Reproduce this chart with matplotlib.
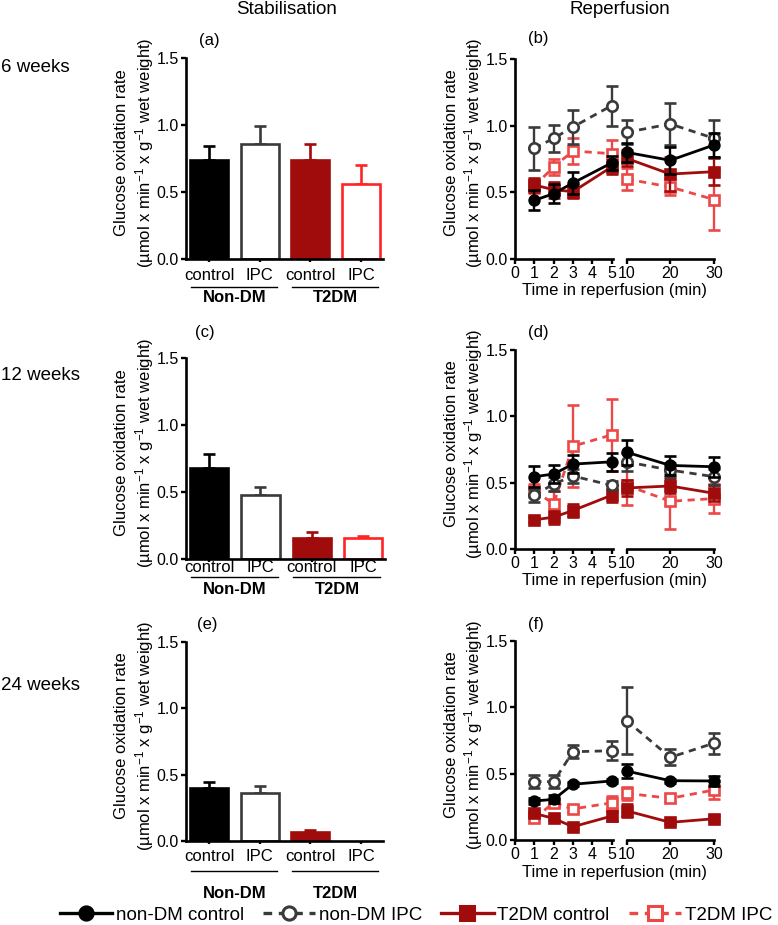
"""Glucose oxidation rate: stabilisation bars and reperfusion time course (6/12/24 weeks)."""

import numpy as np
import matplotlib

matplotlib.use("Agg")
import matplotlib.pyplot as plt
from matplotlib.lines import Line2D
from matplotlib.ticker import FormatStrFormatter
from matplotlib.transforms import blended_transform_factory

plt.rcParams["font.family"] = ["Liberation Sans", "DejaVu Sans"]
plt.rcParams["mathtext.default"] = "regular"

W, H = 778, 925

# ---- data -------------------------------------------------------------
row_labels = ["6 weeks", "12 weeks", "24 weeks"]
bar_labels = ["control", "IPC", "control", "IPC"]
group_labels = ["Non-DM", "T2DM"]
series_names = ["non-DM control", "non-DM IPC", "T2DM control", "T2DM IPC"]

# stabilisation (mean, SEM) per group: non-DM ctrl, non-DM IPC, T2DM ctrl, T2DM IPC
stab_6wk = [0.74, 0.86, 0.74, 0.56]
stab_6wk_sem = [0.105, 0.13, 0.12, 0.145]
stab_12wk = [0.676, 0.477, 0.16, 0.16]
stab_12wk_sem = [0.11, 0.06, 0.045, 0.015]
stab_24wk = [0.403, 0.365, 0.07, np.nan]
stab_24wk_sem = [0.045, 0.05, 0.012, np.nan]

time_min = [1, 2, 3, 5, 10, 20, 30]

# reperfusion, 6 weeks
rep6_ndm_ctrl = [0.44, 0.49, 0.57, 0.72, 0.80, 0.74, 0.855]
rep6_ndm_ctrl_sem = [0.075, 0.07, 0.085, 0.05, 0.07, 0.10, 0.09]
rep6_ndm_ipc = [0.83, 0.905, 0.99, 1.15, 0.95, 1.013, 0.905]
rep6_ndm_ipc_sem = [0.16, 0.10, 0.13, 0.15, 0.09, 0.16, 0.14]
rep6_t2_ctrl = [0.555, 0.52, 0.505, 0.69, 0.755, 0.637, 0.655]
rep6_t2_ctrl_sem = [0.05, 0.06, 0.05, 0.05, 0.06, 0.13, 0.10]
rep6_t2_ipc = [0.547, 0.69, 0.81, 0.79, 0.60, 0.54, 0.446]
rep6_t2_ipc_sem = [0.05, 0.06, 0.10, 0.10, 0.08, 0.06, 0.23]

# reperfusion, 12 weeks
rep12_ndm_ctrl = [0.545, 0.565, 0.64, 0.657, 0.73, 0.63, 0.62]
rep12_ndm_ctrl_sem = [0.08, 0.065, 0.07, 0.07, 0.095, 0.07, 0.075]
rep12_ndm_ipc = [0.405, 0.49, 0.55, 0.48, 0.657, 0.595, 0.545]
rep12_ndm_ipc_sem = [0.05, 0.05, 0.05, 0.03, 0.07, 0.05, 0.06]
rep12_t2_ctrl = [0.22, 0.24, 0.29, 0.405, 0.46, 0.475, 0.42]
rep12_t2_ctrl_sem = [0.02, 0.05, 0.05, 0.05, 0.06, 0.05, 0.06]
rep12_t2_ipc = [0.44, 0.34, 0.775, 0.86, 0.48, 0.36, 0.38]
rep12_t2_ipc_sem = [0.05, 0.10, 0.31, 0.27, 0.15, 0.21, 0.11]

# reperfusion, 24 weeks
rep24_ndm_ctrl = [0.294, 0.306, 0.42, 0.445, 0.52, 0.447, 0.445]
rep24_ndm_ctrl_sem = [0.02, 0.03, 0.015, 0.015, 0.05, 0.015, 0.04]
rep24_ndm_ipc = [0.44, 0.44, 0.665, 0.673, 0.90, 0.623, 0.73]
rep24_ndm_ipc_sem = [0.05, 0.05, 0.05, 0.07, 0.25, 0.06, 0.08]
rep24_t2_ctrl = [0.20, 0.163, 0.10, 0.18, 0.22, 0.133, 0.16]
rep24_t2_ctrl_sem = [0.02, 0.015, 0.015, 0.04, 0.05, 0.015, 0.02]
rep24_t2_ipc = [0.163, 0.28, 0.234, 0.28, 0.352, 0.314, 0.377]
rep24_t2_ipc_sem = [0.03, 0.03, 0.02, 0.05, 0.05, 0.03, 0.07]

# ---- styles -----------------------------------------------------------
C_NDM = "black"
C_NDM_IPC = "#3a3a3a"
C_T2 = "#a00c0c"
C_T2_IPC = "#ec4848"
BAR_FACE = ["black", "white", C_T2, "white"]
BAR_EDGE = ["black", C_NDM_IPC, C_T2, "#ff2424"]
DASH = (0, (2.6, 2.0))

LINE_STYLES = [
    dict(color=C_NDM, ls="-", marker="o", mfc=C_NDM, ms=7),
    dict(color=C_NDM_IPC, ls=DASH, marker="o", mfc="white", ms=7.5),
    dict(color=C_T2, ls="-", marker="s", mfc=C_T2, ms=6.8),
    dict(color=C_T2_IPC, ls=DASH, marker="s", mfc="white", ms=7.2),
]


def px_rect(left, top, right, bottom):
    return [left / W, 1 - bottom / H, (right - left) / W, (bottom - top) / H]


def style_axis(ax):
    for side in ("top", "right"):
        ax.spines[side].set_visible(False)
    for side in ("left", "bottom"):
        ax.spines[side].set_linewidth(1.9)
    ax.set_ylim(0, 1.5)
    ax.set_yticks([0, 0.5, 1.0, 1.5])
    ax.yaxis.set_major_formatter(FormatStrFormatter("%.1f"))
    ax.tick_params(axis="both", width=1.7, length=3.5, labelsize=11.5, pad=1.5)
    ax.set_facecolor("none")


def ylabel(fig, left_px, top_px, bottom_px):
    yc = (top_px + bottom_px) / 2 - 6
    fig.text((left_px - 64) / W, 1 - yc / H, "Glucose oxidation rate",
             rotation=90, ha="center", va="center", fontsize=12)
    fig.text((left_px - 41) / W, 1 - yc / H,
             "(\u00b5mol x min$^{-1}$ x g$^{-1}$ wet weight)",
             rotation=90, ha="center", va="center", fontsize=12)


fig = plt.figure(figsize=(W / 100, H / 100), dpi=100)

# ---- stabilisation bar panels ----------------------------------------
bar_rows = [
    (stab_6wk, stab_6wk_sem, (186, 58, 383, 259), 4.0, 28, 39),
    (stab_12wk, stab_12wk_sem, (186, 358, 385, 559), -2.0, 18, 31),
    (stab_24wk, stab_24wk_sem, (186, 642, 383, 841), 3.5, 30, 52),
]
xpos = np.arange(4)
for means, sems, rect, pad, line_off, grp_off in bar_rows:
    ax = fig.add_axes(px_rect(*rect))
    style_axis(ax)
    ax_h = rect[3] - rect[1]
    for i in range(4):
        if np.isnan(means[i]):
            continue
        ax.bar(xpos[i], means[i], width=0.75, color=BAR_FACE[i],
               edgecolor=BAR_EDGE[i], linewidth=1.9, zorder=2)
        ax.errorbar(xpos[i], means[i], yerr=[[0], [sems[i]]], fmt="none",
                    ecolor=BAR_EDGE[i], elinewidth=1.9, capsize=4.5,
                    capthick=1.9, zorder=1)
    ax.set_xlim(-0.454, 3.43)
    ax.set_xticks(xpos, bar_labels)
    ax.tick_params(axis="x", length=2.5, labelsize=12, pad=pad)
    trans = blended_transform_factory(ax.transData, ax.transAxes)
    for g, (x0, x1) in enumerate([(0, 1), (2, 3)]):
        ax.plot([x0 - 0.36, x1 + 0.34], [-line_off / ax_h] * 2, color="black",
                lw=1.0, transform=trans, clip_on=False)
        ax.text((x0 + x1) / 2, -grp_off / ax_h, group_labels[g], transform=trans,
                ha="center", va="center", fontsize=12, fontweight="bold")
    ylabel(fig, rect[0], rect[1], rect[3])

# ---- reperfusion line panels (broken x axis) -------------------------
rep_rows = [
    ([rep6_t2_ipc, rep6_t2_ctrl, rep6_ndm_ipc, rep6_ndm_ctrl],
     [rep6_t2_ipc_sem, rep6_t2_ctrl_sem, rep6_ndm_ipc_sem, rep6_ndm_ctrl_sem], 59, 259),
    ([rep12_t2_ipc, rep12_t2_ctrl, rep12_ndm_ipc, rep12_ndm_ctrl],
     [rep12_t2_ipc_sem, rep12_t2_ctrl_sem, rep12_ndm_ipc_sem, rep12_ndm_ctrl_sem], 350, 549),
    ([rep24_t2_ipc, rep24_t2_ctrl, rep24_ndm_ipc, rep24_ndm_ctrl],
     [rep24_t2_ipc_sem, rep24_t2_ctrl_sem, rep24_ndm_ipc_sem, rep24_ndm_ctrl_sem], 641, 840),
]
t = np.array(time_min)
early = t <= 5
late = t >= 10
for means_list, sems_list, top, bottom in rep_rows:
    ax_l = fig.add_axes(px_rect(515, top, 612.5, bottom))
    ax_r = fig.add_axes(px_rect(626.5, top, 714, bottom))
    style_axis(ax_l)
    style_axis(ax_r)
    ax_r.spines["left"].set_visible(False)
    ax_r.tick_params(axis="y", left=False, labelleft=False)
    ax_l.set_xlim(0, 5.05)
    ax_l.set_xticks([0, 1, 2, 3, 4, 5])
    ax_r.set_xlim(10, 30)
    ax_r.set_xticks([10, 20, 30])
    for k, (m, s) in enumerate(zip(means_list, sems_list)):
        st = LINE_STYLES[3 - k]
        m = np.array(m)
        s = np.array(s)
        for ax, mask in ((ax_l, early), (ax_r, late)):
            cont = ax.errorbar(t[mask], m[mask], yerr=s[mask], color=st["color"],
                               ls=st["ls"], lw=2.0, marker=st["marker"],
                               mfc=st["mfc"], mec=st["color"], mew=1.9,
                               ms=st["ms"], ecolor=st["color"], elinewidth=1.7,
                               capsize=4.2, capthick=1.7, zorder=3 + k)
            for artist in [cont[0], *cont[1], *cont[2]]:
                artist.set_clip_on(False)
    fig.text(614 / W, 1 - (bottom + 32) / H, "Time in reperfusion (min)",
             ha="center", va="center", fontsize=12)
    ylabel(fig, 515, top, bottom)

# ---- titles, row labels, panel letters -------------------------------
fig.text(287 / W, 1 - 10 / H, "Stabilisation", ha="center", va="center", fontsize=13.5)
fig.text(620 / W, 1 - 10 / H, "Reperfusion", ha="center", va="center", fontsize=13.5)
for label, y in zip(row_labels, [67, 375, 685]):
    fig.text(1 / W, 1 - y / H, label, ha="left", va="center", fontsize=13.5)
for letter, x, y in [("(a)", 209, 40), ("(b)", 538, 38), ("(c)", 205, 332),
                     ("(d)", 538, 333), ("(e)", 207, 624), ("(f)", 536, 625)]:
    fig.text(x / W, 1 - y / H, letter, ha="center", va="center", fontsize=12)

# ---- legend ----------------------------------------------------------
handles = [
    Line2D([], [], color=st["color"], ls=st["ls"], lw=2.4, marker=st["marker"],
           mfc=st["mfc"], mec=st["color"], mew=2.2, ms=9.5)
    for st in LINE_STYLES
]
fig.legend(handles, series_names, loc="center", ncol=4, frameon=False,
           bbox_to_anchor=(416 / W, 1 - 915 / H), fontsize=13.5,
           handlelength=2.8, handletextpad=0.2, columnspacing=1.0,
           borderpad=0, borderaxespad=0)

fig.savefig("out.png", dpi=100)
